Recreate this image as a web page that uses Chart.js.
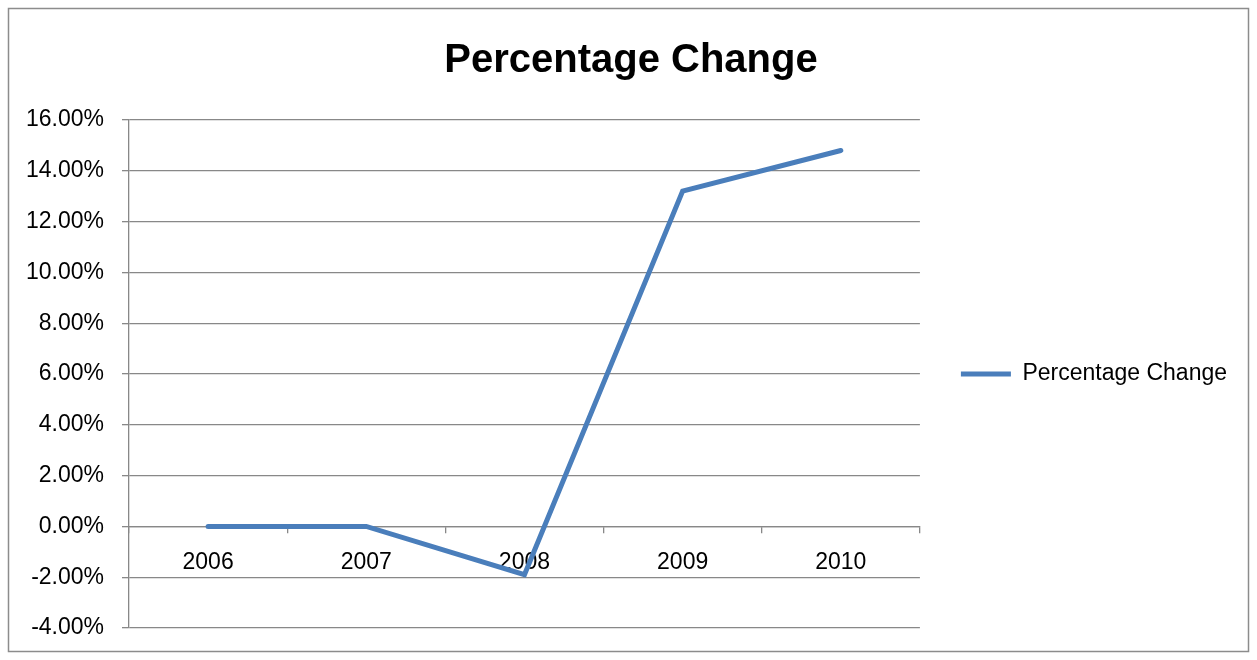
<!DOCTYPE html>
<html>
<head>
<meta charset="utf-8">
<script src="https://cdn.jsdelivr.net/npm/chart.js@4/dist/chart.umd.min.js"></script>
<style>
  html, body { margin: 0; padding: 0; background: #fff; }
  #wrap { width: 1257px; height: 660px; }
</style>
</head>
<body>
<div id="wrap"><canvas id="pctChart"></canvas></div>
<script>
// === Data ===
const years = ["2006", "2007", "2008", "2009", "2010"];
const pctChange = [0, 0, -1.9, 13.2, 14.8];
const yTicks = { min: -4, max: 16, step: 2 };

const gridGray = "#888888";
const font = "'Liberation Sans', Arial, sans-serif";

// outer frame like the Excel chart border
const framePlugin = {
  id: "frame",
  beforeDraw(chart) {
    const ctx = chart.ctx;
    ctx.save();
    ctx.fillStyle = "#fff";
    ctx.fillRect(0, 0, chart.width, chart.height);
    ctx.strokeStyle = "#8c8c8c";
    ctx.lineWidth = 1.5;
    ctx.strokeRect(8.5, 8.5, chart.width - 17, chart.height - 17);
    ctx.restore();
  },
};

new Chart(document.getElementById("pctChart"), {
  type: "line",
  data: {
    labels: years,
    datasets: [
      {
        label: "Percentage Change",
        data: pctChange,
        borderColor: "#4a7ebb",
        backgroundColor: "#4a7ebb",
        borderWidth: 5,
        borderCapStyle: "round",
        borderJoinStyle: "miter",
        pointRadius: 0,
        tension: 0,
      },
    ],
  },
  options: {
    responsive: true,
    maintainAspectRatio: false,
    animation: false,
    layout: { padding: { left: 25, right: 20, top: 0, bottom: 32 } },
    plugins: {
      title: {
        display: true,
        text: "Percentage Change",
        color: "#000",
        font: { family: font, size: 40, weight: "bold" },
        padding: { top: 37, bottom: 35 },
      },
      legend: {
        position: "right",
        fullSize: false,
        maxWidth: 340,
        labels: {
          usePointStyle: true,
          pointStyle: "line",
          pointStyleWidth: 50,
          padding: 41,
          color: "#000",
          font: { family: font, size: 23 },
        },
      },
      tooltip: { enabled: false },
    },
    scales: {
      x: {
        position: { y: 0 },
        offset: true,
        grid: {
          offset: true,
          drawOnChartArea: false,
          drawTicks: true,
          tickLength: 6,
          color: gridGray,
          lineWidth: 1.3,
        },
        border: { display: true, color: gridGray, width: 1.3 },
        ticks: {
          color: "#000",
          padding: 16,
          font: { family: font, size: 23 },
          maxRotation: 0,
        },
      },
      y: {
        min: yTicks.min,
        max: yTicks.max,
        afterFit(scale) {
          scale.width = 104;
        },
        grid: {
          color: gridGray,
          lineWidth: 1.3,
          drawTicks: true,
          tickLength: 7,
        },
        border: { display: true, color: gridGray, width: 1.3 },
        ticks: {
          stepSize: yTicks.step,
          color: "#000",
          padding: 18,
          font: { family: font, size: 23 },
          callback: (v) => v.toFixed(2) + "%",
        },
      },
    },
  },
  plugins: [framePlugin],
});
</script>
</body>
</html>
